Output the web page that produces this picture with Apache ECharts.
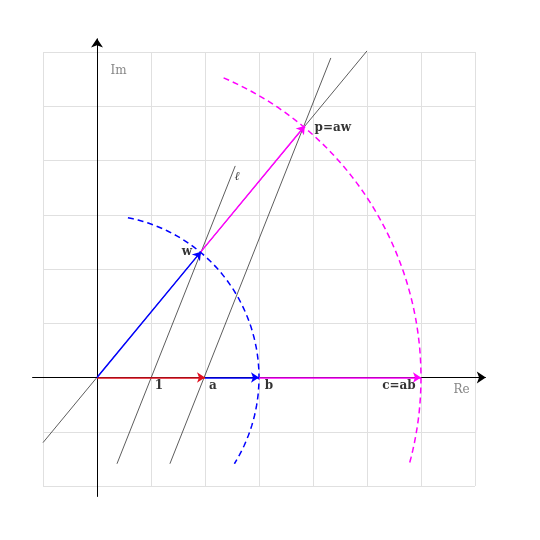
<!DOCTYPE html>
<html><head><meta charset="utf-8">
<script src="https://cdn.jsdelivr.net/npm/echarts@6/dist/echarts.min.js"></script>
<style>html,body{margin:0;background:#fff}#c{width:540px;height:540px}</style>
</head><body><div id="c"></div>
<script>
// points in the complex plane
const w = [1.925, 2.32];
const p = [3.85, 4.64];
const a = [2, 0], b = [3, 0], one = [1, 0], c = [6, 0];
// arrows: [from, to, colour]
const arrows = [
  [[0, 0], a, '#e0101e'],
  [a, b, '#0000ff'],
  [b, c, '#ff00ff'],
  [[0, 0], w, '#0000ff'],
  [w, p, '#ff00ff']
];
// thin black lines
const blackLines = [[[-1, -1.2], [5, 6.02]], [[0.37, -1.59], [2.56, 3.9]], [[1.35, -1.59], [4.33, 5.89]]];
// dashed arcs: radius, start deg, end deg, colour
const arcs = [[3, 79, -32, '#0000ff'], [6, 67, -15.7, '#ff00ff']];
const labels = [
  [one, '1', [8, 8]], [a, 'a', [8, 8]], [b, 'b', [10, 8]], [c, 'c=ab', [-22, 8]],
  [w, 'w', [-14, 0]], [p, 'p=aw', [28, 2]], [[2.6, 3.7], 'ℓ', [0, 0]]
];

const chart = echarts.init(document.getElementById('c'));
const series = [];
series.push({
  type: 'lines', coordinateSystem: 'cartesian2d', silent: true, z: 3, clip: false,
  symbol: ['none', 'arrow'], symbolSize: 9,
  lineStyle: { color: '#000', width: 1, opacity: 1 },
  data: [{ coords: [[-1.2, 0], [7.2, 0]] }, { coords: [[0, -2.2], [0, 6.25]] }]
});
series.push({
  type: 'lines', coordinateSystem: 'cartesian2d', silent: true, z: 2, clip: false,
  symbol: 'none', lineStyle: { color: '#333', width: 0.8, opacity: 1 },
  data: blackLines.map(l => ({ coords: l }))
});
arrows.forEach(([f, t, col]) => series.push({
  type: 'lines', coordinateSystem: 'cartesian2d', silent: true, z: 4, clip: false,
  symbol: ['none', 'arrow'], symbolSize: 8,
  lineStyle: { color: col, width: 1.5, opacity: 1 },
  data: [{ coords: [f, t] }]
}));
arcs.forEach(([r, s, e, col]) => {
  const pts = [];
  for (let i = 0; i <= 60; i++) {
    const t = (s + (e - s) * i / 60) * Math.PI / 180;
    pts.push([r * Math.cos(t), r * Math.sin(t)]);
  }
  series.push({ type: 'line', data: pts, showSymbol: false, silent: true, clip: false, z: 3,
    lineStyle: { color: col, width: 1.5, type: [6, 4] } });
});
series.push({
  type: 'scatter', symbolSize: 0, silent: true, z: 5,
  data: labels.map(([pt, txt, off]) => ({ value: pt, label: { show: true, formatter: txt, offset: off,
    fontStyle: txt === 'ℓ' ? 'italic' : 'normal' } })),
  label: { fontFamily: 'DejaVu Serif', fontWeight: 'bold', fontSize: 12, color: '#000' }
});
series.push({
  type: 'scatter', symbolSize: 0, silent: true,
  data: [{ value: [6.75, -0.22], label: { show: true, formatter: 'Re' } },
         { value: [0.4, 5.65], label: { show: true, formatter: 'Im' } }],
  label: { fontFamily: 'DejaVu Serif', fontSize: 12, color: '#666' }
});

chart.setOption({
  animation: false,
  grid: { left: 43, right: 65, top: 52, bottom: 54 },
  xAxis: { type: 'value', min: -1, max: 7, interval: 1, axisLine: { show: false }, axisTick: { show: false },
    axisLabel: { show: false }, splitLine: { lineStyle: { color: '#e0e0e0' } } },
  yAxis: { type: 'value', min: -2, max: 6, interval: 1, axisLine: { show: false }, axisTick: { show: false },
    axisLabel: { show: false }, splitLine: { lineStyle: { color: '#e0e0e0' } } },
  series
});
</script></body></html>
